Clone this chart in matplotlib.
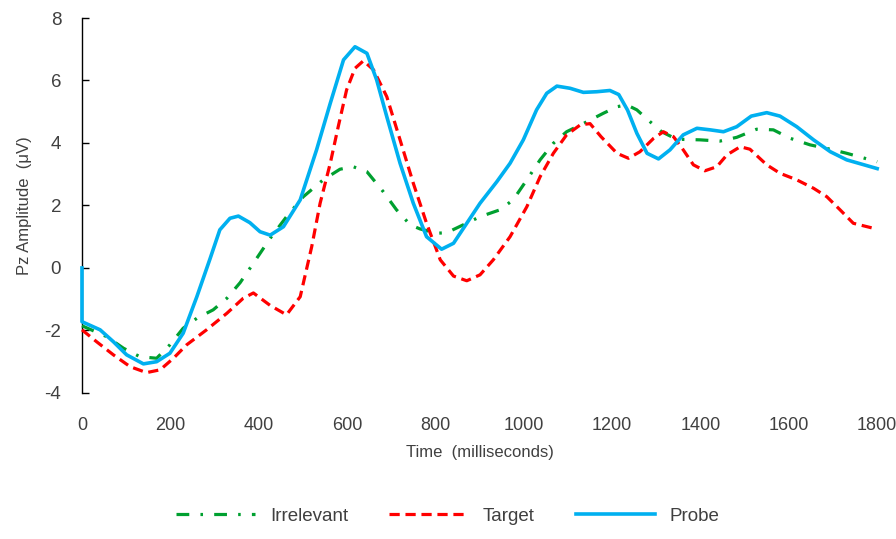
import matplotlib.pyplot as plt

plt.rcParams['font.family'] = ['Liberation Sans', 'DejaVu Sans']
plt.rcParams['axes.unicode_minus'] = False

# Irrelevant (green, dash-dot)
t_irr = [0, 56, 94, 131, 169, 199, 229, 260, 297, 328, 358, 388, 426, 463, 501, 546,
         584, 614, 645, 682, 712, 743, 765, 803, 826, 863, 901, 946, 976, 1007, 1037,
         1067, 1097, 1143, 1180, 1211, 1233, 1256, 1286, 1312, 1346, 1399, 1444, 1482,
         1527, 1565, 1603, 1648, 1694, 1731, 1800]
v_irr = [-1.85, -2.2, -2.57, -2.84, -2.89, -2.46, -1.93, -1.61, -1.34, -0.97, -0.47, 0.15,
         0.95, 1.64, 2.28, 2.82, 3.16, 3.24, 3.08, 2.44, 1.86, 1.38, 1.25, 1.11, 1.13,
         1.38, 1.64, 1.86, 2.18, 2.82, 3.46, 3.99, 4.36, 4.68, 4.95, 5.16, 5.22, 5.06,
         4.68, 4.36, 4.12, 4.1, 4.06, 4.18, 4.44, 4.42, 4.15, 3.94, 3.8, 3.67, 3.4]

# Target (red, dashed)
t_tgt = [0, 33, 71, 109, 146, 177, 207, 237, 282, 328, 365, 388, 426, 463, 494, 520,
         539, 562, 580, 599, 618, 637, 660, 690, 720, 750, 780, 811, 841, 871, 901, 931,
         969, 1007, 1037, 1067, 1097, 1128, 1150, 1175, 1211, 1237, 1263, 1294, 1316,
         1339, 1361, 1384, 1410, 1437, 1460, 1490, 1512, 1550, 1580, 1618, 1656, 1686,
         1716, 1746, 1800]
v_tgt = [-1.98, -2.36, -2.78, -3.16, -3.35, -3.26, -2.89, -2.46, -1.98, -1.45, -0.97,
         -0.8, -1.2, -1.5, -0.92, 0.68, 2.07, 3.35, 4.52, 5.7, 6.39, 6.63, 6.34, 5.48,
         4.1, 2.71, 1.43, 0.26, -0.26, -0.41, -0.22, 0.26, 1.0, 1.96, 2.92, 3.67, 4.26,
         4.58, 4.62, 4.2, 3.67, 3.51, 3.72, 4.15, 4.36, 4.2, 3.78, 3.3, 3.11, 3.24, 3.62,
         3.88, 3.8, 3.3, 3.03, 2.82, 2.55, 2.28, 1.86, 1.43, 1.24]

# Probe (blue, solid)
t_prb = [0, 0, 41, 71, 101, 139, 169, 199, 229, 260, 290, 312, 335, 354, 380, 403, 426,
         456, 494, 531, 562, 592, 618, 645, 667, 690, 720, 750, 780, 814, 841, 871, 901,
         939, 969, 999, 1029, 1052, 1075, 1105, 1135, 1165, 1195, 1215, 1235, 1256, 1279,
         1305, 1331, 1361, 1392, 1422, 1452, 1482, 1515, 1550, 1580, 1618, 1656, 1694,
         1731, 1800]
v_prb = [0, -1.72, -1.98, -2.36, -2.78, -3.07, -3.0, -2.73, -2.09, -0.92, 0.3, 1.22, 1.59,
         1.66, 1.45, 1.16, 1.05, 1.32, 2.18, 3.78, 5.27, 6.66, 7.08, 6.87, 6.02, 4.84,
         3.35, 2.07, 1.0, 0.6, 0.79, 1.43, 2.07, 2.76, 3.35, 4.1, 5.06, 5.59, 5.82, 5.75,
         5.62, 5.64, 5.68, 5.55, 5.05, 4.31, 3.67, 3.49, 3.78, 4.26, 4.47, 4.42, 4.36,
         4.52, 4.86, 4.97, 4.86, 4.52, 4.1, 3.72, 3.46, 3.18]

x_ticks = [0, 200, 400, 600, 800, 1000, 1200, 1400, 1600, 1800]
y_ticks = [-4, -2, 0, 2, 4, 6, 8]

fig = plt.figure(figsize=(8.96, 5.39), dpi=100)
ax = fig.add_axes([0.0915, 0.271, 0.8875, 0.6956])

ax.plot(t_irr, v_irr, color="#00A030", lw=2.3, linestyle=(0, (4, 3.5, 0.8, 3.5)),
        label="Irrelevant", clip_on=False, zorder=3)
ax.plot(t_tgt, v_tgt, color="#FF0000", lw=2.3, linestyle=(0, (3.2, 1.8)),
        label="Target", clip_on=False, zorder=3)
ax.plot(t_prb, v_prb, color="#00B0F0", lw=2.6, linestyle="-",
        label="Probe", clip_on=False, zorder=4)

ax.set_xlim(0, 1800)
ax.set_ylim(-4, 8)
ax.set_xticks(x_ticks)
ax.set_yticks(y_ticks)
for s in ["top", "right", "bottom"]:
    ax.spines[s].set_visible(False)
ax.spines["left"].set_color("#000000")
ax.spines["left"].set_linewidth(1.0)
ax.tick_params(axis="y", direction="in", length=5, width=1.0, pad=15,
               labelsize=13.5, labelcolor="#404040")
ax.tick_params(axis="x", length=0, pad=17, labelsize=13, labelcolor="#404040")

ax.set_xlabel("Time  (milliseconds)", fontsize=12, color="#404040", labelpad=8)
ax.set_ylabel("Pz Amplitude  (\u03bcV)", fontsize=12, color="#404040", labelpad=9)

fig.legend(loc="lower center", ncol=3, frameon=False, fontsize=13.5,
           handlelength=4.2, columnspacing=2.2, bbox_to_anchor=(0.5, -0.005),
           labelcolor="#404040")

fig.savefig("out.png", dpi=100)
